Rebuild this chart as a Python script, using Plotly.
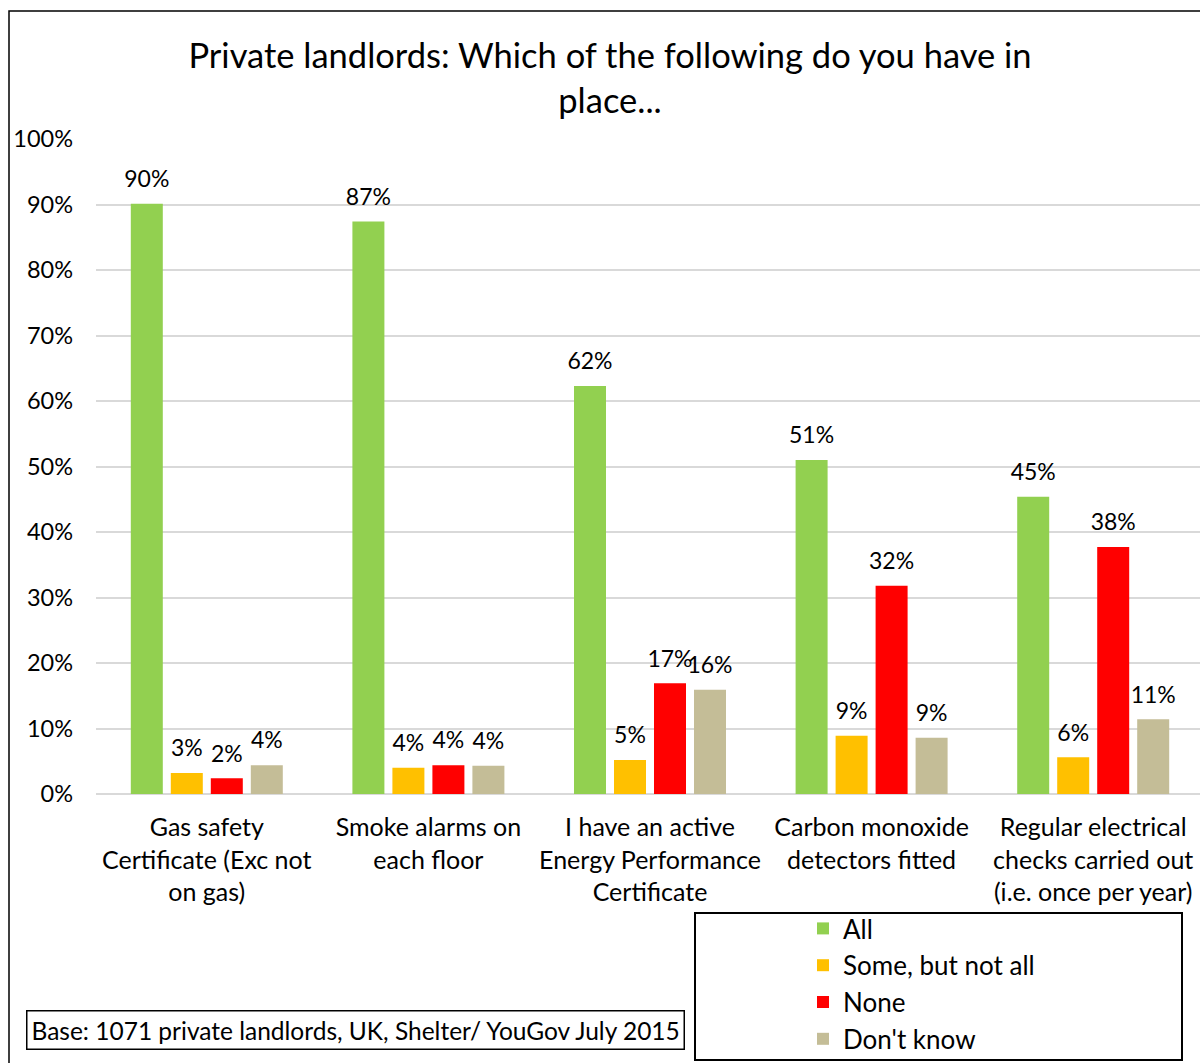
import plotly.graph_objects as go

# Survey categories (x axis) and responses per series, as fractions
categories = [
    "Gas safety<br>Certificate (Exc not<br>on gas)",
    "Smoke alarms on<br>each floor",
    "I have an active<br>Energy Performance<br>Certificate",
    "Carbon monoxide<br>detectors fitted",
    "Regular electrical<br>checks carried out<br>(i.e. once per year)",
]
series_names = ["All", "Some, but not all", "None", "Don't know"]
all_vals = [0.901, 0.874, 0.623, 0.510, 0.454]
some_vals = [0.032, 0.040, 0.052, 0.089, 0.056]
none_vals = [0.024, 0.044, 0.169, 0.318, 0.377]
dontknow_vals = [0.044, 0.043, 0.159, 0.086, 0.114]
y_ticks = [0, 0.1, 0.2, 0.3, 0.4, 0.5, 0.6, 0.7, 0.8, 0.9, 1.0]

colors = ["#92D050", "#FFC000", "#FF0000", "#C4BD97"]
series_values = [all_vals, some_vals, none_vals, dontknow_vals]

FONT = "Lato"
W, H = 1200, 1063
L, R, T, B = 96, 0, 139, 269
plot_w = W - L - R
plot_h = H - T - B
BARGAP = 0.278


def px_x(px):
    return (px - L) / plot_w


def px_y(py):
    return (H - B - py) / plot_h


x_idx = list(range(len(categories)))

fig = go.Figure()
for name, vals, col in zip(series_names, series_values, colors):
    fig.add_trace(go.Bar(
        name=name,
        x=x_idx,
        y=vals,
        marker=dict(color=col, line=dict(width=0)),
        hoverinfo="skip",
    ))

# value labels sitting above each bar (grouped the same way as the bars)
for name, vals in zip(series_names, series_values):
    fig.add_trace(go.Scatter(
        x=x_idx,
        y=vals,
        mode="markers+text",
        marker=dict(size=16, opacity=0, color="white"),
        text=[f"{v:.0%}" for v in vals],
        textposition="top center",
        textfont=dict(family=FONT, size=23, color="#000000"),
        cliponaxis=False,
        showlegend=False,
        hoverinfo="skip",
        name=name + " label",
    ))

fig.update_layout(
    width=W,
    height=H,
    margin=dict(l=L, r=R, t=T, b=B, pad=0),
    paper_bgcolor="white",
    plot_bgcolor="white",
    barmode="group",
    bargap=BARGAP,
    bargroupgap=0.2,
    scattermode="group",
    scattergap=BARGAP,
    font=dict(family=FONT, color="#000000"),
    title=dict(
        text="Private landlords: Which of the following do you have in<br>place...",
        font=dict(family=FONT, size=34.5, color="#000000"),
        x=610 / W,
        xanchor="center",
        xref="container",
        yref="container",
        y=1 - 68 / H,
        yanchor="middle",
    ),
    xaxis=dict(
        range=[-0.5, 4.5 - 4 / 221.5],
        tickmode="array",
        tickvals=x_idx,
        ticktext=categories,
        tickfont=dict(family=FONT, size=25, color="#000000"),
        tickangle=0,
        showgrid=False,
        zeroline=False,
        showline=False,
        ticks="",
        ticklabelstandoff=16,
        automargin=False,
    ),
    yaxis=dict(
        range=[0, 1],
        tickmode="array",
        tickvals=y_ticks,
        tickformat=".0%",
        tickfont=dict(family=FONT, size=23.5, color="#000000"),
        showgrid=True,
        gridcolor="#D9D9D9",
        gridwidth=2,
        zeroline=True,
        zerolinecolor="#D9D9D9",
        zerolinewidth=2,
        showline=False,
        ticks="",
        ticklabelstandoff=22,
        automargin=False,
    ),
    showlegend=True,
    legend=dict(
        x=px_x(803),
        y=px_y(1063),
        xanchor="left",
        yanchor="bottom",
        font=dict(family=FONT, size=26, color="#000000"),
        bgcolor="rgba(0,0,0,0)",
        borderwidth=0,
        traceorder="normal",
    ),
    shapes=[
        # outer chart frame
        dict(type="rect", xref="paper", yref="paper",
             x0=px_x(9), x1=px_x(1215), y0=px_y(1075), y1=px_y(11),
             line=dict(color="#000000", width=1.5), fillcolor="rgba(0,0,0,0)",
             layer="below"),
        # legend frame
        dict(type="rect", xref="paper", yref="paper",
             x0=px_x(695), x1=px_x(1182), y0=px_y(1060), y1=px_y(913),
             line=dict(color="#000000", width=2), fillcolor="rgba(0,0,0,0)"),
    ],
    annotations=[
        dict(
            text="Base: 1071 private landlords, UK, Shelter/ YouGov July 2015",
            xref="paper", yref="paper",
            x=px_x(355), y=px_y(1030),
            xanchor="center", yanchor="middle",
            showarrow=False,
            font=dict(family=FONT, size=24.5, color="#000000"),
            bordercolor="#000000",
            borderwidth=1.5,
            borderpad=4,
            bgcolor="white",
        )
    ],
)

fig.write_html("out.html")
